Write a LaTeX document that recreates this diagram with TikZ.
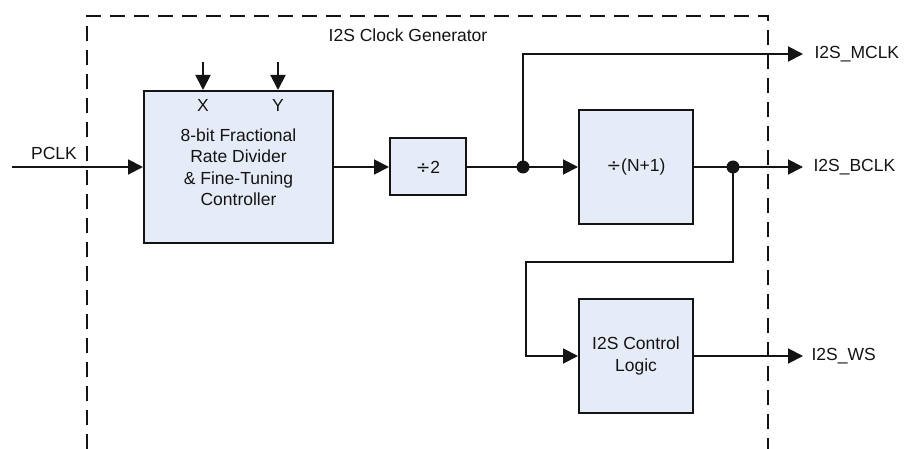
\documentclass[tikz,border=0pt]{standalone}
\usepackage{fontspec}
\setmainfont{Liberation Sans}
\newfontfamily\symf{DejaVu Sans}
\usetikzlibrary{arrows.meta}
\definecolor{boxfill}{HTML}{E6ECF7}
\definecolor{ink}{HTML}{141414}
\newcommand{\dv}{{\symf ÷}}
\begin{document}
\begin{tikzpicture}[x=1pt,y=-1pt,
  every node/.style={font=\fontsize{17.5}{21.5}\selectfont, text=ink},
  blk/.style={draw=ink, fill=boxfill, line width=2pt, inner sep=0pt, align=center},
  conn/.style={draw=ink, line width=1.9pt},
  arr/.style={conn, -{Triangle[length=15pt,width=15pt]}},
  dot/.style={circle, fill=ink, inner sep=0pt, minimum size=13pt},
  frame/.style={draw=ink, line width=1.9pt, dash pattern=on 15pt off 9pt}]
\useasboundingbox (0,0) rectangle (907,449);
% frame
\draw[frame] (87,449) -- (87,16) -- (768,16) -- (768,449);
\node (title) at (408,35) {I2S Clock Generator};
% blocks
\node[blk, minimum width=189pt, minimum height=152pt] (frd) at (238.5,167) {8-bit Fractional\\Rate Divider\\\& Fine-Tuning\\Controller};
\node (xl) at (203,105) {X};
\node (yl) at (278,105) {Y};
\node[blk, minimum width=76pt, minimum height=57pt] (div2) at (428,167) {\dv2};
\node[blk, minimum width=114pt, minimum height=113pt] (divn) at (636,167) {\dv(N+1)};
\node[blk, minimum width=114pt, minimum height=114pt] (ctrl) at (636,356) {I2S Control\\Logic};
% inputs
\coordinate (pin) at (12,167);
\node (pclk) at (54,153) {PCLK};
\coordinate (xin) at (203,62);
\coordinate (yin) at (278,62);
\draw[arr] (pin) -- (frd.west);
\draw[arr] (xin) -- (xin |- frd.north);
\draw[arr] (yin) -- (yin |- frd.north);
% chain
\draw[arr] (frd.east) -- (div2.west);
\node[dot] (j1) at (523,167) {};
\draw[conn] (div2.east) -- (j1.center);
\draw[arr] (j1.center) -- (divn.west);
\coordinate (mclk) at (803,54);
\node[anchor=west] (mclkl) at (811,54) {I2S\_MCLK};
\draw[arr] (j1.center) -- (523,54) -- (mclk);
\node[dot] (j2) at (733,167) {};
\draw[conn] (divn.east) -- (j2.center);
\coordinate (bclk) at (803,167);
\node[anchor=west] (bclkl) at (810,167) {I2S\_BCLK};
\draw[arr] (j2.center) -- (bclk);
\draw[arr] (j2.center) -- (733,262) -- (526,262) -- (526,356) -- (ctrl.west);
\coordinate (ws) at (803,356);
\node[anchor=west] (wsl) at (808,356) {I2S\_WS};
\draw[arr] (ctrl.east) -- (ws);
\end{tikzpicture}
\end{document}
